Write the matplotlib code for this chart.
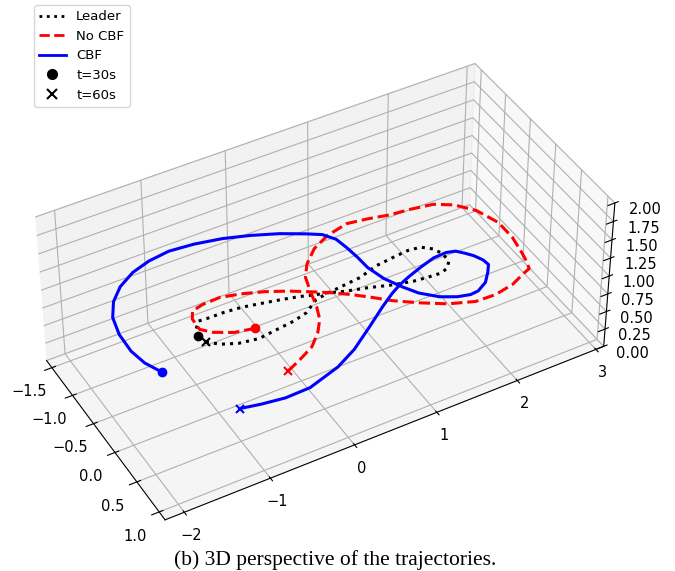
import matplotlib
matplotlib.use("Agg")
import matplotlib.pyplot as plt
from matplotlib.lines import Line2D

# trajectories between t=30s (first point) and t=60s (last point)
leader_x = [-1.12, -1.09, -1.01, -0.88, -0.72, -0.52, -0.30, -0.09, 0.09, 0.26, 0.37, 0.54,
            0.78, 1.03, 1.26, 1.43, 1.57, 1.67, 1.75, 1.76, 1.71, 1.61, 1.46, 1.27,
            1.04, 0.80, 0.54, 0.37, 0.22, 0.03, -0.15, -0.38, -0.59, -0.81, -0.98, -1.09]
leader_y = [-0.17, -0.28, -0.38, -0.37, -0.37, -0.35, -0.30, -0.25, -0.20, -0.14, -0.11, -0.04,
            0.03, 0.12, 0.18, 0.20, 0.21, 0.18, 0.09, -0.05, -0.17, -0.26, -0.28, -0.26,
            -0.23, -0.15, -0.12, -0.10, -0.07, 0.06, 0.11, 0.14, 0.17, 0.13, 0.05, -0.05]
leader_z = 1.0

nocbf_x = [-0.55, -0.77, -0.96, -1.06, -1.05, -0.99, -0.85, -0.64, -0.42, -0.19, 0.04, 0.23,
           0.41, 0.58, 0.75, 0.91, 1.14, 1.39, 1.66, 1.90, 2.14, 2.33, 2.43, 2.47, 2.50,
           2.55, 2.55, 2.45, 2.29, 2.10, 1.84, 1.59, 1.35, 1.12, 0.84, 0.61, 0.42, 0.30,
           0.24, 0.17, 0.10, -0.02, -0.18, -0.40, -0.57]
nocbf_y = [0.01, -0.04, -0.15, -0.26, -0.44, -0.55, -0.59, -0.60, -0.54, -0.45, -0.33, -0.21,
           -0.09, 0.04, 0.19, 0.34, 0.51, 0.67, 0.78, 0.79, 0.74, 0.65, 0.61, 0.49, 0.36,
           0.08, -0.20, -0.49, -0.69, -0.81, -0.86, -0.89, -0.95, -0.99, -0.92, -0.80, -0.62, -0.44,
           -0.24, 0.03, 0.22, 0.39, 0.55, 0.67, 0.75]
nocbf_z = 1.0

cbf_x = [-1.70, -1.79, -1.83, -1.82, -1.76, -1.64, -1.47, -1.25, -1.02, -0.76, -0.47, -0.16,
         0.12, 0.41, 0.65, 0.80, 0.89, 0.92, 0.94, 0.95, 1.01, 1.11, 1.21, 1.37,
         1.53, 1.67, 1.77, 1.91, 2.02, 2.09, 2.08, 2.03, 1.97, 1.90, 1.80, 1.64,
         1.45, 1.26, 1.10, 0.96, 0.77, 0.50, 0.18, -0.10, -0.50, -0.79, -1.05, -1.27]
cbf_y = [0.13, -0.08, -0.31, -0.60, -0.87, -1.09, -1.27, -1.41, -1.49, -1.53, -1.50, -1.43,
         -1.33, -1.20, -1.06, -0.96, -0.82, -0.64, -0.45, -0.25, -0.01, 0.20, 0.37, 0.53,
         0.62, 0.66, 0.65, 0.57, 0.44, 0.34, 0.25, 0.14, 0.06, -0.02, -0.05, -0.04,
         0.02, 0.09, 0.16, 0.24, 0.37, 0.57, 0.80, 0.95, 1.08, 1.09, 1.05, 1.00]
cbf_z = 1.0

x_ticks = [-2, -1, 0, 1, 2, 3]
y_ticks = [-1.5, -1.0, -0.5, 0.0, 0.5, 1.0]
z_ticks = [0.0, 0.25, 0.5, 0.75, 1.0, 1.25, 1.5, 1.75, 2.0]

fig = plt.figure(figsize=(6.75, 5.71), dpi=100)
ax = fig.add_axes([0.0401, -0.0191, 0.862, 1.019], projection='3d')

ax.plot(leader_x, leader_y, leader_z, ':', color='k', lw=2.2)
ax.plot(nocbf_x, nocbf_y, nocbf_z, '--', color='r', lw=2.2)
ax.plot(cbf_x, cbf_y, cbf_z, '-', color='b', lw=2.2)

for xs, ys, z, c in [(leader_x, leader_y, leader_z, 'k'),
                     (nocbf_x, nocbf_y, nocbf_z, 'r'),
                     (cbf_x, cbf_y, cbf_z, 'b')]:
    ax.plot([xs[0]], [ys[0]], [z], 'o', color=c, ms=6)
    ax.plot([xs[-1]], [ys[-1]], [z], 'x', color=c, ms=6, mew=1.5)

ax.set_xlim(-2.22, 3.1)
ax.set_ylim(1.13, -1.63)
ax.set_zlim(0, 2)
ax.set_xticks(x_ticks)
ax.set_yticks(y_ticks)
ax.set_zticks(z_ticks)
ax.set_box_aspect((5.32, 2.76, 2.0))
ax.view_init(elev=40.9, azim=-119.6)
ax.zaxis.set_ticks_position('upper')
ax.zaxis.set_label_position('upper')
ax.tick_params(labelsize=10.5)

handles = [Line2D([], [], ls=':', color='k', lw=2, label='Leader'),
           Line2D([], [], ls='--', color='r', lw=2, label='No CBF'),
           Line2D([], [], ls='-', color='b', lw=2, label='CBF'),
           Line2D([], [], ls='None', marker='o', color='k', ms=7, label='t=30s'),
           Line2D([], [], ls='None', marker='x', color='k', ms=7, mew=1.5, label='t=60s')]
fig.legend(handles=handles, loc='upper left', bbox_to_anchor=(34 / 675, 1 - 5 / 571),
           borderaxespad=0, fontsize=9.5)

fig.text(0.496, 0.02, "(b) 3D perspective of the trajectories.", ha='center', va='center',
         family='Liberation Serif', fontsize=15.5)

fig.savefig("out.png", dpi=100)
